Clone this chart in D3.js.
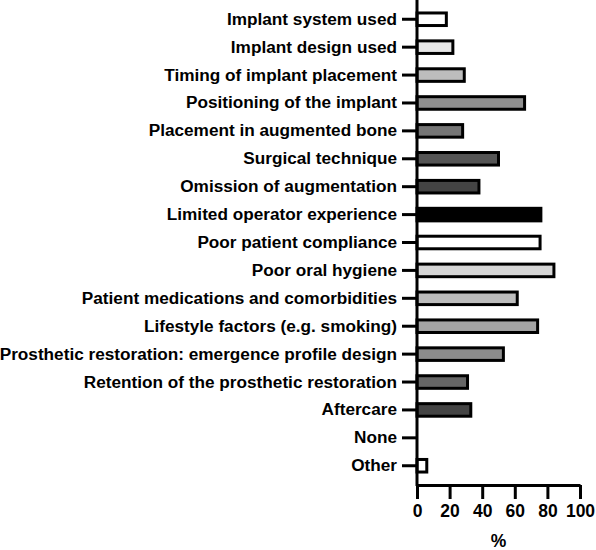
<!DOCTYPE html>
<html>
<head>
<meta charset="utf-8">
<script src="https://cdn.jsdelivr.net/npm/d3@7"></script>
<style>
  body { margin: 0; background: #fff; }
  svg { display: block; font-family: "Liberation Sans", Arial, sans-serif; font-weight: bold; }
</style>
</head>
<body>
<div id="chart"></div>
<script>
// Data
const categories = [
  "Implant system used",
  "Implant design used",
  "Timing of implant placement",
  "Positioning of the implant",
  "Placement in augmented bone",
  "Surgical technique",
  "Omission of augmentation",
  "Limited operator experience",
  "Poor patient compliance",
  "Poor oral hygiene",
  "Patient medications and comorbidities",
  "Lifestyle factors (e.g. smoking)",
  "Prosthetic restoration: emergence profile design",
  "Retention of the prosthetic restoration",
  "Aftercare",
  "None",
  "Other"
];
const percentages = [18, 22, 29, 66, 28, 50, 38, 76, 75.5, 84, 61.5, 74, 53, 31, 33, 0, 6];
const fills = [
  "#ffffff", "#e6e6e6", "#bdbdbd", "#8f8f8f", "#757575", "#555555", "#444444",
  "#000000", "#ffffff", "#d6d6d6", "#bdbdbd", "#a3a3a3", "#8c8c8c", "#666666",
  "#444444", "#ffffff", "#ffffff"
];
const xTicks = [0, 20, 40, 60, 80, 100];

const data = categories.map((c, i) => ({ label: c, value: percentages[i], fill: fills[i] }));

const width = 596;
const height = 550;

const svg = d3.select("#chart")
  .append("svg")
    .attr("width", width)
    .attr("height", height);

/****************************/
/*    Declare the scales    */
/****************************/
const xScale = d3.scaleLinear()
  .domain([0, 100])
  .range([417, 580]);

const yScale = d3.scaleBand()
  .domain(categories)
  .range([0, 485])
  .paddingInner(0.55)
  .paddingOuter(0.465);

/******************************/
/*     Append the bars        */
/******************************/
svg
  .selectAll(".bar")
  .data(data)
  .join("rect")
    .attr("class", "bar")
    .attr("x", xScale(0))
    .attr("y", d => yScale(d.label))
    .attr("width", d => xScale(d.value) - xScale(0))
    .attr("height", yScale.bandwidth())
    .attr("fill", d => d.fill)
    .attr("stroke", "#000")
    .attr("stroke-width", 3)
    .attr("visibility", d => d.value > 0 ? "visible" : "hidden");

/***************************/
/*     Append the axes     */
/***************************/
const leftAxis = svg
  .append("g")
    .attr("transform", `translate(${xScale(0)}, 0)`)
    .call(d3.axisLeft(yScale).tickSize(15).tickSizeOuter(0).tickPadding(5));
leftAxis.select(".domain").remove();
leftAxis.append("line")
  .attr("x1", 0).attr("x2", 0)
  .attr("y1", 0).attr("y2", 486)
  .attr("stroke", "#000")
  .attr("stroke-width", 3);
leftAxis.selectAll(".tick line").attr("stroke-width", 3);
leftAxis.selectAll(".tick text")
  .attr("font-size", 17.2)
  .attr("font-weight", "bold")
  .attr("font-family", "Liberation Sans, Arial, sans-serif")
  .attr("fill", "#000");

const bottomAxis = svg
  .append("g")
    .attr("transform", "translate(0, 485)")
    .call(d3.axisBottom(xScale).tickValues(xTicks).tickSize(14).tickSizeOuter(0).tickPadding(6));
bottomAxis.select(".domain").attr("stroke-width", 3);
bottomAxis.selectAll(".tick line").attr("stroke-width", 3);
bottomAxis.selectAll(".tick text")
  .attr("font-size", 17.5)
  .attr("font-weight", "bold")
  .attr("font-family", "Liberation Sans, Arial, sans-serif")
  .attr("fill", "#000");

// Axis label
svg
  .append("text")
    .attr("x", (xScale(0) + xScale(100)) / 2)
    .attr("y", 547)
    .attr("text-anchor", "middle")
    .attr("font-size", 17.5)
    .text("%");
</script>
</body>
</html>
